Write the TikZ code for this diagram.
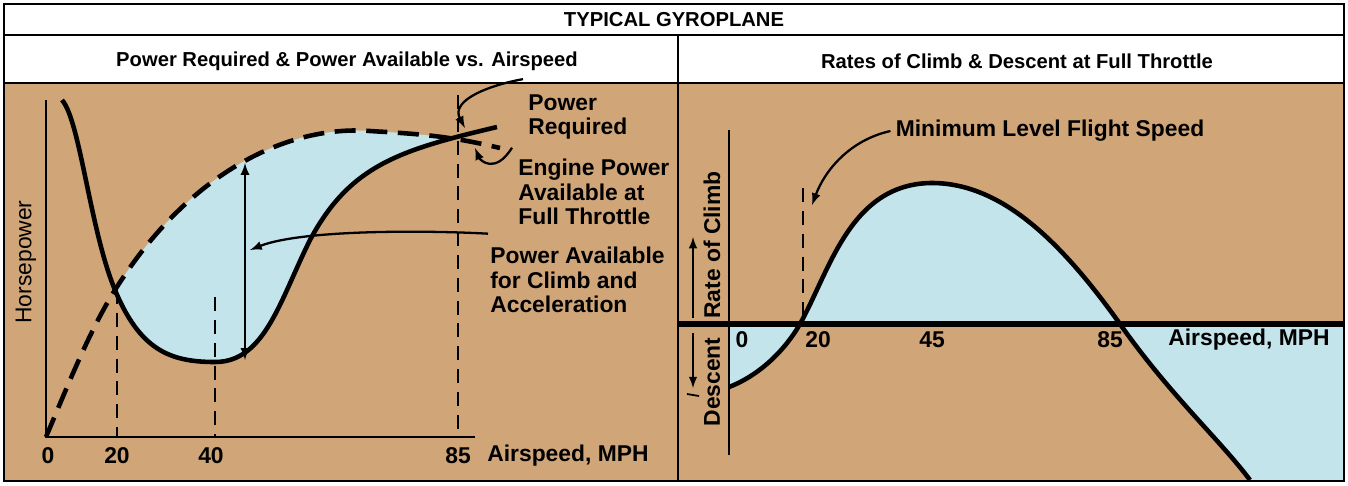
\documentclass[tikz,border=0pt]{standalone}
\usepackage{fontspec}
\setmainfont{Liberation Sans}
\definecolor{tan}{RGB}{208,165,120}
\definecolor{sky}{RGB}{196,228,236}
\tikzset{
  lbl/.style={font=\bfseries\fontsize{13}{14}\selectfont,align=left,inner sep=0pt},
  ttl/.style={font=\bfseries\fontsize{11.5}{13}\selectfont,inner sep=0pt},
  guide/.style={dashed,dash pattern=on 8pt off 5pt,line width=0.9pt},
  curve/.style={line width=2.6pt},
  pointer/.style={-latex,line width=1.3pt},
}
\begin{document}
\begin{tikzpicture}[x=0.02cm,y=-0.02cm]
  \useasboundingbox (0,0) rectangle (1348,485);
  \fill[white] (0,0) rectangle (1348,485);
  % panels
  \fill[tan] (4,83) rectangle (1344,481);
  % left fill
  \begin{scope}
    \clip (62,100) .. controls (80,120) and (90,230) .. (115,290) .. controls (140,350) and (170,362) .. (215,362) .. controls (265,362) and (280,300) .. (310,240) .. controls (350,165) and (400,150) .. (497,127) -- (497,83) -- (62,83) -- cycle;
    \fill[sky] (46,437) .. controls (70,380) and (90,330) .. (115,290) .. controls (190,170) and (290,125) .. (370,131) .. controls (420,134) and (450,136) .. (500,148) -- (500,437) -- cycle;
  \end{scope}
  % right fill
  \begin{scope}
    \clip (678,83) rectangle (1344,481);
    \fill[sky,even odd rule] (729,387) .. controls (760,375) and (785,350) .. (800,324) .. controls (830,270) and (850,185) .. (930,183) .. controls (1000,182) and (1060,240) .. (1120,324) .. controls (1170,395) and (1220,440) .. (1250,480) -- (1344,480) -- (1344,324) -- (729,324) -- cycle;
  \end{scope}
  % frame
  \draw[line width=1.4pt] (4,4) rectangle (1344,481);
  \draw[line width=1.4pt] (4,35) -- (1344,35) (4,83) -- (1344,83) (678,35) -- (678,481);
  \node[ttl] (title) at (674,20) {TYPICAL GYROPLANE};
  \node[ttl] (ltitle) at (347,61) {Power Required \& Power Available vs. Airspeed};
  \node[ttl] (rtitle) at (1017,61) {Rates of Climb \& Descent at Full Throttle};
  % left chart
  \draw[line width=1.2pt] (46,100) -- (46,437) -- (475,437);
  \draw[guide] (117,290) -- (117,437);
  \draw[guide] (215,297) -- (215,437);
  \draw[guide] (458,95) -- (458,437);
  \draw[curve,dash pattern=on 12pt off 6pt] (46,437) .. controls (70,380) and (90,330) .. (115,290) .. controls (190,170) and (290,125) .. (370,131) .. controls (420,134) and (450,136) .. (500,148);
  \draw[curve] (62,100) .. controls (80,120) and (90,230) .. (115,290) .. controls (140,350) and (170,362) .. (215,362) .. controls (265,362) and (280,300) .. (310,240) .. controls (350,165) and (400,150) .. (497,127);
  \draw[latex-latex,line width=1.3pt] (245,163) -- (245,360);
  \node[lbl] (x0) at (48,456) {0};
  \node[lbl] (x20) at (117,456) {20};
  \node[lbl] (x40) at (211,456) {40};
  \node[lbl] (x85) at (458,456) {85};
  \node[lbl,anchor=west] (xlab) at (487,456) {Airspeed, MPH};
  \node[font=\fontsize{13}{14}\selectfont,rotate=90,inner sep=0pt] (ylab) at (26,262) {Horsepower};
  \node[lbl,anchor=west] (preq) at (528,117) {Power\\Required};
  \node[lbl,anchor=west] (epow) at (518,192) {Engine Power\\Available at\\Full Throttle};
  \node[lbl,anchor=west] (pav) at (490,280) {Power Available\\for Climb and\\Acceleration};
  \draw[pointer] (preq.north west) ++(-5,-15) coordinate (p1) .. controls (490,85) and (450,100) .. (465,128);
  \draw[pointer] (epow.north west) ++(-6,-11) coordinate (p2) .. controls (495,175) and (480,160) .. (475,148);
  \draw[pointer] (pav.north west) ++(-2,-13) coordinate (p3) .. controls (420,230) and (300,230) .. (250,250);
  % right chart
  \draw[line width=1.2pt] (729,130) -- (729,455);
  \draw[guide] (803,188) -- (803,324);
  \draw[line width=3.2pt] (678,324) -- (1344,324);
  \draw[curve] (729,387) .. controls (760,375) and (785,350) .. (800,324) .. controls (830,270) and (850,185) .. (930,183) .. controls (1000,182) and (1060,240) .. (1120,324) .. controls (1170,395) and (1220,440) .. (1250,480);
  \node[lbl] (r0) at (742,340) {0};
  \node[lbl] (r20) at (818,340) {20};
  \node[lbl] (r45) at (932,340) {45};
  \node[lbl] (r85) at (1110,340) {85};
  \node[lbl,anchor=west] (rxlab) at (1168,340) {Airspeed, MPH};
  \node[lbl] (minlvl) at (1050,131) {Minimum Level Flight Speed};
  \draw[pointer] (minlvl.west) ++(-5,0) coordinate (p4) .. controls (850,140) and (825,170) .. (812,205);
  \node[lbl,font=\fontsize{13}{14}\selectfont\bfseries,rotate=90] (roc) at (712,245) {Rate of Climb};
  \node[lbl,font=\fontsize{13}{14}\selectfont\bfseries,rotate=90] (desc) at (712,382) {Descent};
  \draw[-latex,line width=1.2pt] (693,318) coordinate (u0) -- (693,237) coordinate (u1);
  \draw[-latex,line width=1.2pt] (693,333) coordinate (d0) -- (693,388) coordinate (d1);
  \draw[line width=1pt] (687,394) coordinate (t0) -- (699,396) coordinate (t1);
\end{tikzpicture}
\end{document}
